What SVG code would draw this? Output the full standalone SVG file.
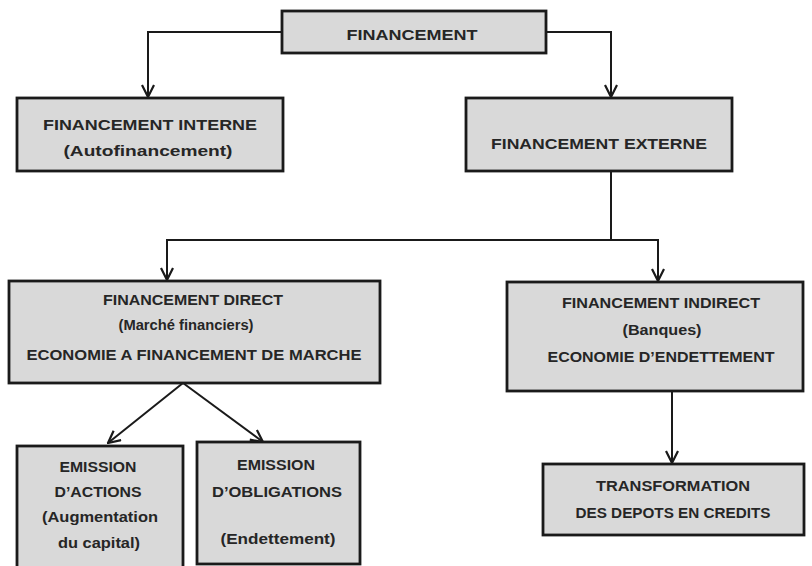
<svg xmlns="http://www.w3.org/2000/svg" width="812" height="566" viewBox="0 0 812 566">
<style>
.box{fill:#d9d9d9;stroke:#1a1a1a;stroke-width:2.8}
.t{font-family:"Liberation Sans",Arial,sans-serif;font-weight:bold;font-size:14px;fill:#262626;text-anchor:middle}
.c{fill:none;stroke:#1a1a1a;stroke-width:2}
</style>
<defs>
<marker id="arr" viewBox="0 0 14 14" refX="13" refY="7" markerWidth="14" markerHeight="14" markerUnits="userSpaceOnUse" orient="auto">
<path d="M1,1 L13,7 L1,13" fill="none" stroke="#1a1a1a" stroke-width="2.2"/>
</marker>
</defs>
<rect width="812" height="566" fill="#ffffff"/>
<g id="connectors">
<path class="c" d="M282,32 H148 V97" marker-end="url(#arr)"/>
<path class="c" d="M546,32 H611 V97" marker-end="url(#arr)"/>
<path class="c" d="M611,171 V240"/>
<path class="c" d="M612,240 H167 V280" marker-end="url(#arr)"/>
<path class="c" d="M610,240 H658 V281" marker-end="url(#arr)"/>
<path class="c" d="M183,383 L108,443" marker-end="url(#arr)"/>
<path class="c" d="M183,383 L263,442" marker-end="url(#arr)"/>
<path class="c" d="M672,391 V463" marker-end="url(#arr)"/>
</g>
<g id="financement">
<rect class="box" x="282" y="11" width="264" height="42"/>
<text class="t" x="412" y="40" font-size="15" textLength="131" lengthAdjust="spacingAndGlyphs">FINANCEMENT</text>
</g>
<g id="interne">
<rect class="box" x="17" y="98" width="266" height="73"/>
<text class="t" x="150" y="130" textLength="214" lengthAdjust="spacingAndGlyphs">FINANCEMENT INTERNE</text>
<text class="t" x="148" y="156" textLength="169" lengthAdjust="spacingAndGlyphs">(Autofinancement)</text>
</g>
<g id="externe">
<rect class="box" x="466" y="98" width="266" height="73"/>
<text class="t" x="599" y="149" textLength="216" lengthAdjust="spacingAndGlyphs">FINANCEMENT EXTERNE</text>
</g>
<g id="direct">
<rect class="box" x="9" y="281" width="371" height="102"/>
<text class="t" x="193" y="305" textLength="180" lengthAdjust="spacingAndGlyphs">FINANCEMENT  DIRECT</text>
<text class="t" x="186" y="330" textLength="135" lengthAdjust="spacingAndGlyphs">(Marché financiers)</text>
<text class="t" x="194" y="360" textLength="335" lengthAdjust="spacingAndGlyphs">ECONOMIE A FINANCEMENT  DE MARCHE</text>
</g>
<g id="indirect">
<rect class="box" x="507" y="282" width="296" height="109"/>
<text class="t" x="661" y="308" textLength="198" lengthAdjust="spacingAndGlyphs">FINANCEMENT  INDIRECT</text>
<text class="t" x="662" y="335" textLength="79" lengthAdjust="spacingAndGlyphs">(Banques)</text>
<text class="t" x="661" y="362" textLength="227" lengthAdjust="spacingAndGlyphs">ECONOMIE D’ENDETTEMENT</text>
</g>
<g id="actions">
<rect class="box" x="17" y="446" width="166" height="125"/>
<text class="t" x="98" y="472" textLength="77" lengthAdjust="spacingAndGlyphs">EMISSION</text>
<text class="t" x="98" y="497" textLength="87" lengthAdjust="spacingAndGlyphs">D’ACTIONS</text>
<text class="t" x="100" y="522" textLength="116" lengthAdjust="spacingAndGlyphs">(Augmentation</text>
<text class="t" x="99" y="548" textLength="82" lengthAdjust="spacingAndGlyphs">du capital)</text>
</g>
<g id="obligations">
<rect class="box" x="197" y="442" width="163" height="122"/>
<text class="t" x="276" y="470" textLength="78" lengthAdjust="spacingAndGlyphs">EMISSION</text>
<text class="t" x="277" y="497" textLength="130" lengthAdjust="spacingAndGlyphs">D’OBLIGATIONS</text>
<text class="t" x="278" y="544" textLength="115" lengthAdjust="spacingAndGlyphs">(Endettement)</text>
</g>
<g id="transformation">
<rect class="box" x="543" y="464" width="261" height="71"/>
<text class="t" x="673" y="491" textLength="154" lengthAdjust="spacingAndGlyphs">TRANSFORMATION</text>
<text class="t" x="673" y="518" textLength="195" lengthAdjust="spacingAndGlyphs">DES DEPOTS EN CREDITS</text>
</g>
</svg>
